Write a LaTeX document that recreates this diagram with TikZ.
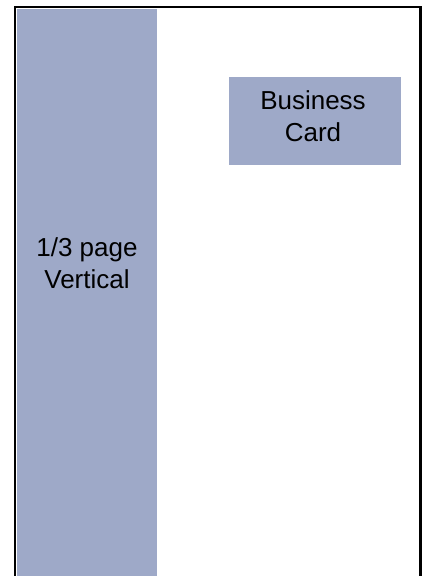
\documentclass[tikz,border=0pt]{standalone}
\usepackage{fontspec}
\setmainfont{Liberation Sans}
\definecolor{adblue}{RGB}{158,169,200}
\tikzset{
    adbox/.style={fill=adblue, draw=none},
    adtext/.style={align=center, inner sep=0pt, font=\fontsize{26}{31.6}\selectfont}
}
\begin{document}
\begin{tikzpicture}[x=1pt, y=-1pt]
            \useasboundingbox (0,0) rectangle (422,576);
            \clip (0,0) rectangle (422,576);

            \fill[adbox] (17,9) rectangle (157,580);
            \fill[adbox] (229,77) rectangle (401,165);

            \node[adtext] (vertical) at (87,263) {1/3 page\\Vertical};
            \node[adtext] (card) at (313,116) {Business\\Card};

            \draw[black, line width=2.5pt] (15,590) -- (15,7) -- (420.7,7) -- (420.7,590);
        \end{tikzpicture}
\end{document}
